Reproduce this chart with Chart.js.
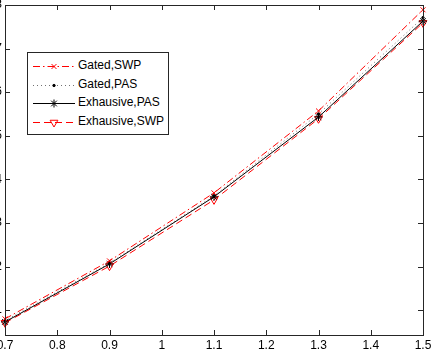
<!DOCTYPE html>
<html>
<head>
<meta charset="utf-8">
<script src="https://cdn.jsdelivr.net/npm/chart.js@4/dist/chart.umd.min.js"></script>
<style>
  html, body { margin: 0; padding: 0; background: #fff; }
  body { width: 431px; height: 351px; overflow: hidden; position: relative; font-family: "Liberation Sans", Arial, sans-serif; }
  #wrap { position: absolute; left: -40px; top: -10px; width: 491px; height: 361px; }
  #legend { position: absolute; left: 27px; top: 52px; width: 140px; height: 81px; border: 1px solid #262626; background: #fff; }
  .row { position: absolute; left: 0; height: 14px; }
  .row canvas { position: absolute; left: 4px; top: 1px; }
  .row span { position: absolute; left: 50px; top: -1px; font-size: 12px; line-height: 14px; color: #000; white-space: nowrap; }
</style>
</head>
<body>
<div id="wrap"><canvas id="chart" width="491" height="361"></canvas></div>
<div id="legend"></div>
<script>
// x positions and series
const xValues = [0.7, 0.9, 1.1, 1.3, 1.5];
const gatedSWP      = [0.80, 2.13, 3.69, 5.57, 7.89];
const gatedPAS      = [0.76, 2.08, 3.62, 5.50, 7.71];
const exhaustivePAS = [0.73, 2.06, 3.60, 5.43, 7.63];
const exhaustiveSWP = [0.71, 2.01, 3.53, 5.39, 7.59];

const seriesNames = ['Gated,SWP', 'Gated,PAS', 'Exhausive,PAS', 'Exhausive,SWP'];
const xTicks = [0.7, 0.8, 0.9, 1.0, 1.1, 1.2, 1.3, 1.4, 1.5];

const FONT = '"Liberation Sans", Arial, sans-serif';
const RED = '#ff0000';

function pts(ys) { return ys.map((y, i) => ({ x: xValues[i], y })); }

const styles = [
  { borderColor: RED, borderWidth: 1, borderDash: [7, 3, 1.5, 3], pointStyle: 'crossRot', pointRadius: 3.5, pointBorderColor: RED, pointBackgroundColor: RED, pointBorderWidth: 1, pointRotation: 0 },
  { borderColor: '#333', borderWidth: 0.7, borderDash: [1, 3], pointStyle: 'circle', pointRadius: 1.2, pointBorderColor: '#000', pointBackgroundColor: '#000', pointBorderWidth: 1, pointRotation: 0 },
  { borderColor: '#000', borderWidth: 1, borderDash: [], pointStyle: 'star', pointRadius: 4, pointBorderColor: '#000', pointBackgroundColor: '#000', pointBorderWidth: 1, pointRotation: 0 },
  { borderColor: RED, borderWidth: 1, borderDash: [7, 4], pointStyle: 'triangle', pointRadius: 4.5, pointBorderColor: RED, pointBackgroundColor: 'rgba(0,0,0,0)', pointBorderWidth: 1, pointRotation: 180 }
];
const series = [gatedSWP, gatedPAS, exhaustivePAS, exhaustiveSWP];

// frame + inward tick marks, matlab style
const frame = {
  id: 'frame',
  afterDatasetsDraw(chart) {
    const { ctx, chartArea: a, scales: { x, y } } = chart;
    ctx.save();
    ctx.strokeStyle = '#262626';
    ctx.lineWidth = 1;
    ctx.setLineDash([]);
    ctx.beginPath();
    x.ticks.forEach(t => {
      const px = Math.round(x.getPixelForValue(t.value)) + 0.5;
      ctx.moveTo(px, a.bottom); ctx.lineTo(px, a.bottom - 5);
      ctx.moveTo(px, a.top); ctx.lineTo(px, a.top + 5);
    });
    y.ticks.forEach(t => {
      const py = Math.round(y.getPixelForValue(t.value)) + 0.5;
      ctx.moveTo(a.left, py); ctx.lineTo(a.left + 5, py);
      ctx.moveTo(a.right, py); ctx.lineTo(a.right - 5, py);
    });
    ctx.stroke();
    ctx.strokeRect(a.left + 0.5, a.top + 0.5, a.right - a.left, a.bottom - a.top);
    ctx.restore();
  }
};

new Chart(document.getElementById('chart'), {
  type: 'line',
  data: {
    datasets: series.map((s, i) => Object.assign({
      label: seriesNames[i],
      data: pts(s),
      tension: 0,
      fill: false,
      clip: false
    }, styles[i]))
  },
  options: {
    responsive: false,
    animation: false,
    events: [],
    layout: { padding: { top: 15, right: 28, left: 0, bottom: 0 } },
    plugins: { legend: { display: false }, tooltip: { enabled: false } },
    scales: {
      x: {
        type: 'linear', min: 0.7, max: 1.5,
        afterBuildTicks: s => { s.ticks = xTicks.map(v => ({ value: v })); },
        afterFit: s => { s.height = 16; s.paddingLeft = 0; s.paddingRight = 0; },
        grid: { display: false, drawTicks: false },
        border: { display: false },
        ticks: { padding: 3, color: '#000', font: { family: FONT, size: 12 }, maxRotation: 0, autoSkip: false,
                 callback: v => String(+v.toFixed(1)) }
      },
      y: {
        type: 'linear', min: 0.43, max: 8,
        afterFit: s => { s.width = 45; s.paddingTop = 0; s.paddingBottom = 0; },
        grid: { display: false, drawTicks: false },
        border: { display: false },
        ticks: { stepSize: 1, includeBounds: false, padding: 3, color: '#000', font: { family: FONT, size: 12 } }
      }
    }
  },
  plugins: [frame]
});

// legend: line sample + marker, real text
const legend = document.getElementById('legend');
const rowTops = [6, 24.5, 43, 61.5];
seriesNames.forEach((name, i) => {
  const st = styles[i];
  const row = document.createElement('div');
  row.className = 'row';
  row.style.top = rowTops[i] + 'px';
  const c = document.createElement('canvas');
  c.width = 44; c.height = 12;
  const g = c.getContext('2d');
  g.strokeStyle = st.borderColor;
  g.lineWidth = st.borderWidth;
  g.setLineDash(st.borderDash);
  g.beginPath(); g.moveTo(1, 6.5); g.lineTo(43, 6.5); g.stroke();
  g.setLineDash([]);
  g.fillStyle = st.pointBackgroundColor;
  g.strokeStyle = st.pointBorderColor;
  g.lineWidth = st.pointBorderWidth;
  Chart.helpers.drawPoint(g, {
    pointStyle: st.pointStyle, radius: st.pointRadius, rotation: st.pointRotation,
    borderWidth: st.pointBorderWidth
  }, 22, 6.5);
  row.appendChild(c);
  const sp = document.createElement('span');
  sp.textContent = name;
  row.appendChild(sp);
  legend.appendChild(row);
});
</script>
</body>
</html>
